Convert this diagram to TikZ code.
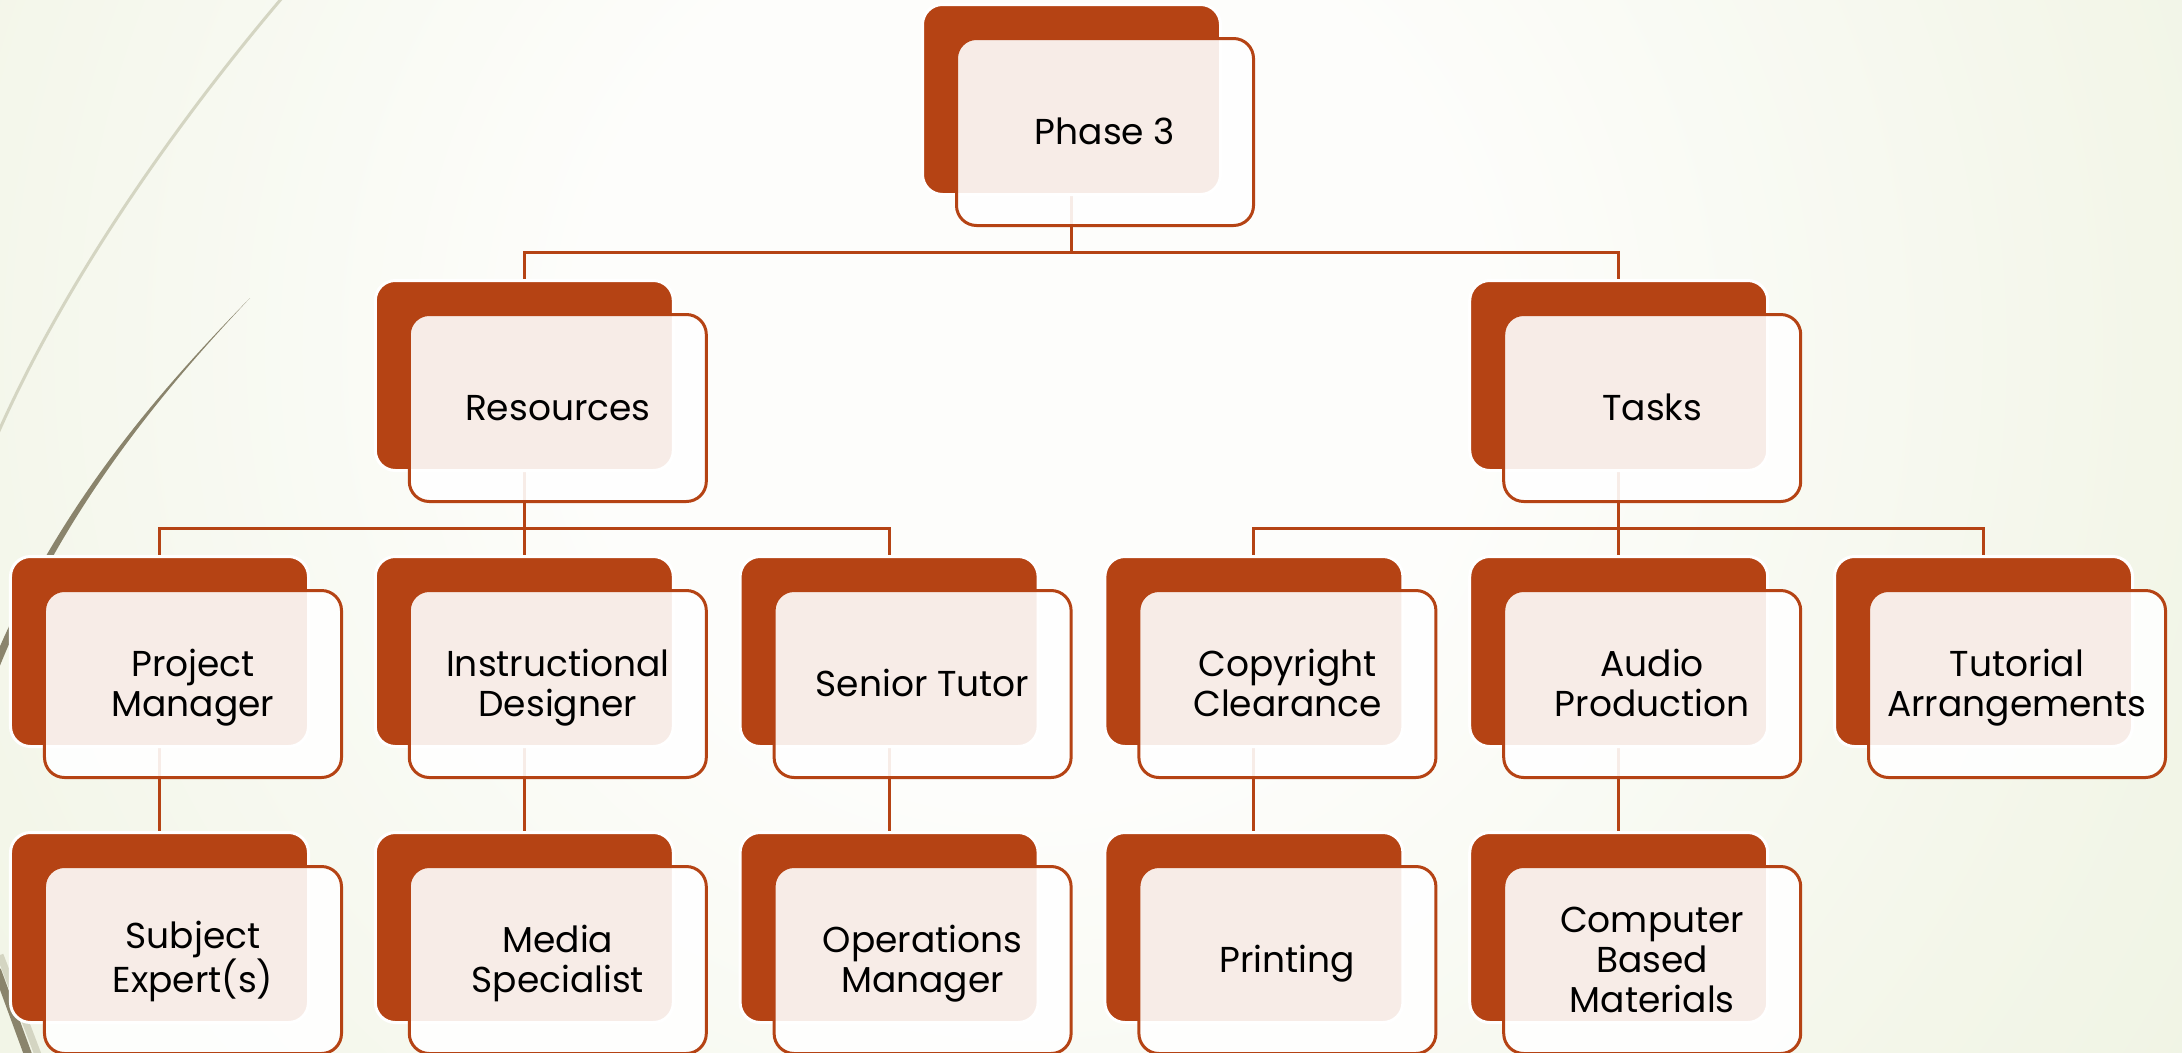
\documentclass[tikz,border=0pt]{standalone}
\usepackage{fontspec}
\setmainfont{Poppins}
\usetikzlibrary{calc}
\definecolor{rust}{RGB}{181,67,20}
\definecolor{bgout}{RGB}{232,238,216}
\definecolor{bgmid}{RGB}{243,246,233}
\definecolor{bgin}{RGB}{253,253,251}
\definecolor{wispA}{RGB}{212,213,194}
\definecolor{wispB}{RGB}{138,132,108}
\pgfdeclarelayer{bgl}
\pgfdeclarelayer{lines}
\pgfsetlayers{bgl,lines,main}
\pgfdeclareradialshading{bgshade}{\pgfpoint{0bp}{0bp}}{color(0bp)=(bgin); color(8bp)=(bgin); color(20bp)=(bgmid); color(37bp)=(bgout); color(50bp)=(bgout)}
\tikzset{
  backbox/.style={rectangle, rounded corners=20bp, fill=rust, draw=white, line width=3bp,
    minimum width=298bp, minimum height=190bp, inner sep=0pt},
  frontbox/.style={rectangle, rounded corners=20bp, fill=white, fill opacity=0.9,
    draw=rust, draw opacity=1, line width=3bp, minimum width=297bp, minimum height=187bp,
    inner sep=0pt},
  boxtext/.style={align=center, text=black, inner sep=0pt, anchor=base,
    font=\fontsize{36bp}{40bp}\selectfont},
  conn/.style={draw=rust, line width=3bp},
}
% #1 name, #2 x, #3 y (back box centre), #4 number of lines, #5 text
% the base anchor of a multi-line node is the baseline of its last line
\newcommand\orgnode[5]{%
  \node[backbox] (#1B) at (#2,#3) {};
  \node[frontbox] (#1F) at (#2+33.5,#3+32.5) {};
  \node[boxtext] (#1) at (#2+33.5,{#3+32.5+(25.5+(#4-1)*40)/2}) {#5};
}
\begin{document}
\begin{tikzpicture}[x=1bp,y=-1bp]
\useasboundingbox (0,0) rectangle (2182,1052);
\begin{pgfonlayer}{bgl}
  \shade[shading=bgshade] (1030-1400,350-1400) rectangle (1030+1400,350+1400);
  % decorative wisps
  \draw[wispA, line width=3bp] (282,-2) .. controls (170,130) and (60,290) .. (-5,440);
  \fill[wispB] (250,298) .. controls (170,380) and (60,500) .. (-8,665)
     -- (-1,668) .. controls (66,502) and (172,381) .. (250,298) -- cycle;
  \draw[wispA, line width=7bp] (0,955) -- (40,1060);
  \draw[wispB, line width=8bp] (-3,970) -- (30,1060);
\end{pgfonlayer}

\orgnode{phase}{1071.5}{99.5}{1}{Phase 3}
\orgnode{res}{524.3}{375.5}{1}{Resources}
\orgnode{tasks}{1618.7}{375.5}{1}{Tasks}
\orgnode{pm}{159.5}{651.5}{2}{Project\\Manager}
\orgnode{id}{524.3}{651.5}{2}{Instructional\\Designer}
\orgnode{st}{889.1}{651.5}{1}{Senior Tutor}
\orgnode{cc}{1253.9}{651.5}{2}{Copyright\\Clearance}
\orgnode{ap}{1618.7}{651.5}{2}{Audio\\Production}
\orgnode{ta}{1983.5}{651.5}{2}{Tutorial\\Arrangements}
\orgnode{se}{159.5}{927.5}{2}{Subject\\Expert(s)}
\orgnode{ms}{524.3}{927.5}{2}{Media\\Specialist}
\orgnode{om}{889.1}{927.5}{2}{Operations\\Manager}
\orgnode{pr}{1253.9}{927.5}{1}{Printing}
\orgnode{cbm}{1618.7}{927.5}{3}{Computer\\Based\\Materials}

\begin{pgfonlayer}{lines}
  \draw[conn] (phaseB.center) -- ++(0,153) -| (resB.center);
  \draw[conn] (phaseB.center) -- ++(0,153) -| (tasksB.center);
  \draw[conn] (resB.center) -- ++(0,153) -| (pmB.center);
  \draw[conn] (resB.center) -- ++(0,153) -| (idB.center);
  \draw[conn] (resB.center) -- ++(0,153) -| (stB.center);
  \draw[conn] (tasksB.center) -- ++(0,153) -| (ccB.center);
  \draw[conn] (tasksB.center) -- ++(0,153) -| (apB.center);
  \draw[conn] (tasksB.center) -- ++(0,153) -| (taB.center);
  \draw[conn] (pmB.center) -- (seB.center);
  \draw[conn] (idB.center) -- (msB.center);
  \draw[conn] (stB.center) -- (omB.center);
  \draw[conn] (ccB.center) -- (prB.center);
  \draw[conn] (apB.center) -- (cbmB.center);
\end{pgfonlayer}
\end{tikzpicture}
\end{document}
